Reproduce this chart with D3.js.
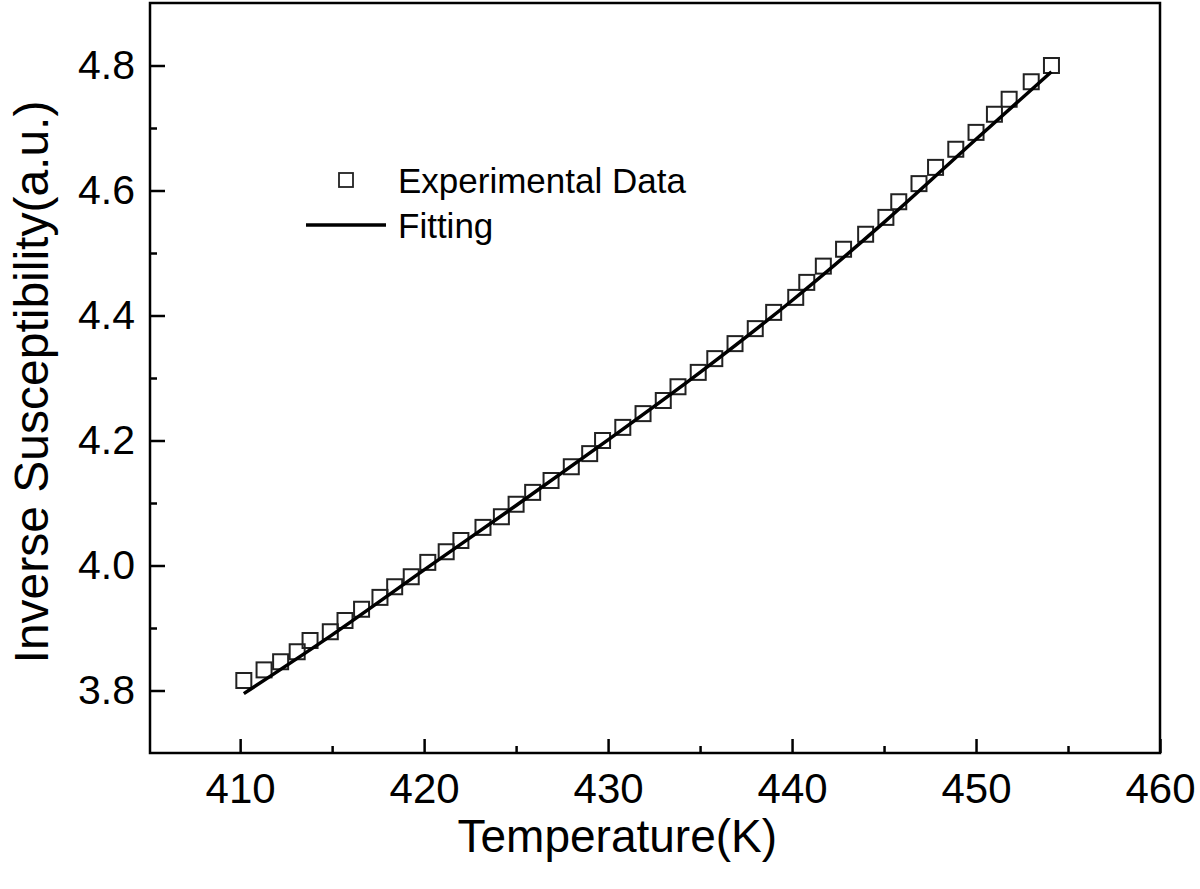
<!DOCTYPE html>
<html>
<head>
<meta charset="utf-8">
<script src="https://cdn.jsdelivr.net/npm/d3@7"></script>
<style>
  body { margin: 0; background: #fff; }
  text { font-family: "Liberation Sans", Arial, sans-serif; fill: #000; }
</style>
</head>
<body>
<div id="chart"></div>
<script>
const tempData = [410.2, 411.3, 412.2, 413.1, 413.8, 414.9, 415.7, 416.6, 417.6, 418.4,
    419.3, 420.2, 421.2, 422.0, 423.2, 424.2, 425.0, 425.9, 426.9, 428.0,
    429.0, 429.7, 430.8, 431.9, 433.0, 433.8, 434.9, 435.8, 436.9, 438.0,
    439.0, 440.2, 440.8, 441.7, 442.8, 444.0, 445.1, 445.8, 446.9, 447.8,
    448.9, 450.0, 451.0, 451.8, 453.0, 454.1];
const invSusData = [3.816, 3.833, 3.846, 3.862, 3.880, 3.894, 3.912, 3.930, 3.949, 3.966,
    3.982, 4.005, 4.022, 4.040, 4.061, 4.078, 4.098, 4.117, 4.136, 4.158,
    4.179, 4.200, 4.221, 4.243, 4.264, 4.286, 4.309, 4.331, 4.355, 4.379,
    4.405, 4.429, 4.453, 4.479, 4.506, 4.530, 4.557, 4.582, 4.611, 4.637,
    4.666, 4.693, 4.722, 4.746, 4.774, 4.800];

// Fitting curve
const fitTemp = [410.2, 415, 420, 425, 430, 435, 440, 445, 450, 454.1];
const fitValue = [3.795, 3.889, 3.993, 4.096, 4.201, 4.309, 4.424, 4.549, 4.682, 4.790];

// Ticks
const xMajorTicks = [410, 420, 430, 440, 450, 460];
const xMinorTicks = [415, 425, 435, 445, 455];
const yMajorTicks = [3.8, 4.0, 4.2, 4.4, 4.6, 4.8];
const yMinorTicks = [3.9, 4.1, 4.3, 4.5, 4.7];

const legendLabels = ["Experimental Data", "Fitting"];

const data = tempData.map((t, i) => ({T: t, V: invSusData[i]}));
const fit = fitTemp.map((t, i) => ({T: t, V: fitValue[i]}));

// Dimensions
const margin = {top: 3, right: 40, bottom: 136, left: 150},
    width = 1200 - margin.left - margin.right,
    height = 889 - margin.top - margin.bottom;

const svg = d3.select("#chart")
    .append("svg")
    .attr("width", width + margin.left + margin.right)
    .attr("height", height + margin.top + margin.bottom)
    .append("g")
    .attr("transform", `translate(${margin.left},${margin.top})`);

// Scales
const x = d3.scaleLinear()
    .domain([405.1, 460])
    .range([0, width]);

const y = d3.scaleLinear()
    .domain([3.7, 4.9])
    .range([height, 0]);

// X axis (ticks point inward)
svg.append("g")
    .attr("transform", `translate(0,${height})`)
    .call(d3.axisBottom(x)
        .tickValues(xMajorTicks)
        .tickFormat(d3.format("d"))
        .tickSizeInner(-14)
        .tickSizeOuter(0)
        .tickPadding(20))
    .selectAll(".tick text")
    .style("font-size", "42px");

svg.append("g")
    .attr("transform", `translate(0,${height})`)
    .call(d3.axisBottom(x)
        .tickValues(xMinorTicks)
        .tickFormat("")
        .tickSizeInner(-7)
        .tickSizeOuter(0));

// Y axis
svg.append("g")
    .call(d3.axisLeft(y)
        .tickValues(yMajorTicks)
        .tickFormat(d3.format(".1f"))
        .tickSizeInner(-15)
        .tickSizeOuter(0)
        .tickPadding(15))
    .selectAll(".tick text")
    .style("font-size", "41px");

svg.append("g")
    .call(d3.axisLeft(y)
        .tickValues(yMinorTicks)
        .tickFormat("")
        .tickSizeInner(-7)
        .tickSizeOuter(0));

svg.selectAll(".tick line").attr("stroke", "#000").attr("stroke-width", 2.5);
svg.selectAll(".domain").attr("stroke", "none");
svg.selectAll(".tick text").attr("fill", "#000");

// Frame
svg.append("rect")
    .attr("x", 0)
    .attr("y", 0)
    .attr("width", width)
    .attr("height", height)
    .attr("fill", "none")
    .attr("stroke", "#000")
    .attr("stroke-width", 2.5);

// Axis labels
svg.append("text")
    .attr("x", x(430.5))
    .attr("y", height + 99)
    .style("text-anchor", "middle")
    .style("font-size", "46px")
    .text("Temperature(K)");

svg.append("text")
    .attr("transform", "rotate(-90)")
    .attr("x", -(382 - margin.top))
    .attr("y", -margin.left + 48)
    .style("text-anchor", "middle")
    .style("font-size", "48px")
    .text("Inverse Susceptibility(a.u.)");

// Data squares
const sq = 15;
svg.selectAll(".pt")
    .data(data)
    .enter()
    .append("rect")
    .attr("class", "pt")
    .attr("x", d => x(d.T) - sq / 2)
    .attr("y", d => y(d.V) - sq / 2)
    .attr("width", sq)
    .attr("height", sq)
    .attr("fill", "none")
    .attr("stroke", "#222")
    .attr("stroke-width", 2);

// Fitting line
const line = d3.line()
    .x(d => x(d.T))
    .y(d => y(d.V))
    .curve(d3.curveMonotoneX);

svg.append("path")
    .datum(fit)
    .attr("fill", "none")
    .attr("stroke", "#000")
    .attr("stroke-width", 3.5)
    .attr("d", line);

// Legend
const legend = svg.append("g")
    .attr("transform", `translate(${346 - margin.left}, ${180 - margin.top})`);

legend.append("rect")
    .attr("x", -7)
    .attr("y", -7)
    .attr("width", 14)
    .attr("height", 14)
    .attr("fill", "none")
    .attr("stroke", "#222")
    .attr("stroke-width", 1.8);

legend.append("text")
    .attr("x", 52)
    .attr("y", 0)
    .attr("dy", "0.36em")
    .style("font-size", "35px")
    .text(legendLabels[0]);

legend.append("line")
    .attr("x1", -40)
    .attr("x2", 40)
    .attr("y1", 45)
    .attr("y2", 45)
    .attr("stroke", "#000")
    .attr("stroke-width", 3.5);

legend.append("text")
    .attr("x", 52)
    .attr("y", 45)
    .attr("dy", "0.36em")
    .style("font-size", "35px")
    .text(legendLabels[1]);
</script>
</body>
</html>
